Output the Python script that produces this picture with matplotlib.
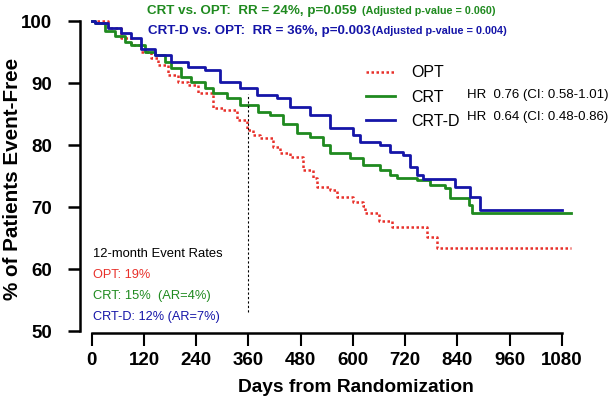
import matplotlib
matplotlib.use("Agg")
import matplotlib.pyplot as plt

plt.rcParams['font.family'] = ['Liberation Sans', 'DejaVu Sans']

# Kaplan-Meier curves (days, % event-free)
opt_days = [0, 37, 67, 90, 113, 136, 152, 175, 198, 221, 244, 279, 302, 334, 357, 371, 387,
            417, 433, 456, 486, 509, 518, 548, 564, 601, 624, 628, 660, 690, 771, 793, 1100]
opt_vals = [100, 98.9, 97.3, 96.1, 95.0, 94.0, 92.9, 91.3, 90.2, 89.7, 88.5, 86.0, 85.6, 84.0, 82.4, 81.6, 81.1,
            79.7, 78.7, 78.1, 76.0, 74.7, 73.2, 72.7, 71.6, 70.8, 70.2, 69.0, 67.8, 66.8, 65.2, 63.4, 63.4]

crt_days = [0, 8, 31, 54, 77, 90, 122, 145, 168, 182, 205, 228, 260, 279, 311, 341, 382, 410, 440,
            472, 502, 531, 548, 593, 623, 662, 685, 701, 747, 777, 812, 823, 866, 874, 1100]
crt_vals = [100, 99.8, 98.5, 97.7, 96.6, 96.1, 95.0, 94.5, 93.4, 92.4, 91.0, 90.2, 89.2, 88.5, 87.6, 86.5, 85.3, 84.8, 83.5,
            81.9, 81.3, 80.0, 78.7, 77.9, 76.8, 76.0, 75.2, 74.7, 74.4, 73.5, 73.1, 71.5, 70.3, 69.0, 69.0]

crtd_days = [0, 8, 37, 67, 90, 113, 145, 182, 221, 260, 295, 341, 380, 426, 456, 502, 548, 601, 617,
             662, 685, 715, 731, 748, 761, 835, 869, 892, 1080]
crtd_vals = [100, 99.8, 98.9, 98.1, 97.3, 95.6, 94.5, 93.4, 92.6, 92.1, 90.2, 89.2, 88.1, 87.6, 86.1, 84.8, 82.7, 81.6, 80.5,
             80.0, 78.9, 78.4, 76.5, 75.2, 74.5, 73.2, 71.6, 69.5, 69.5]

x_ticks = [0, 120, 240, 360, 480, 600, 720, 840, 960, 1080]
y_ticks = [50, 60, 70, 80, 90, 100]
landmark_day = 360

RED = '#e8302a'
GREEN = '#1f8a1f'
BLUE = '#1515a8'

W, H = 610, 404
fig = plt.figure(figsize=(W / 100, H / 100), dpi=100)
ax = fig.add_axes([80 / W, 1 - 333 / H, 495 / W, 321 / H])
renderer = fig.canvas.get_renderer()


def fit_text(x0, x1, y, s, size, **kw):
    # put text at pixel (x0, y) and shrink/grow it to end near x1
    t = fig.text(x0 / W, 1 - y / H, s, fontsize=size, va='center', ha='left', **kw)
    w = t.get_window_extent(renderer).width
    t.set_fontsize(size * (x1 - x0) / w)
    return t


ax.step(opt_days, opt_vals, where='post', color=RED, lw=1.8, linestyle=(0, (1, 1)), label='OPT')
ax.step(crt_days, crt_vals, where='post', color=GREEN, lw=2.0, label='CRT')
ax.step(crtd_days, crtd_vals, where='post', color=BLUE, lw=2.0, label='CRT-D')

ax.vlines(landmark_day, 53, 88.2, colors='black', lw=0.8, linestyles=(0, (2, 2)))

ax.set_xlim(-27, 1110)
ax.set_ylim(49.68, 101.5)
ax.set_xticks(x_ticks)
ax.set_yticks(y_ticks)

for s in ['top', 'right']:
    ax.spines[s].set_visible(False)
ax.spines['left'].set_bounds(50, 100)
ax.spines['bottom'].set_bounds(0, 1080)
ax.spines['left'].set_linewidth(1.8)
ax.spines['bottom'].set_linewidth(1.8)
ax.tick_params(axis='y', length=9, width=1.8, pad=11, labelsize=13.5)
ax.tick_params(axis='x', length=9, width=1.5, pad=5, labelsize=13.5)
for lbl in ax.get_xticklabels() + ax.get_yticklabels():
    lbl.set_fontweight('bold')

# axis titles
fit_text(238, 473, 388, 'Days from Randomization', 13, fontweight='bold')
yl = fig.text(13 / W, 1 - 179 / H, '% of Patients Event-Free', fontsize=13, fontweight='bold',
              rotation=90, va='center', ha='center')
yl.set_fontsize(13 * 242 / yl.get_window_extent(renderer).height)

# header
fit_text(147, 357, 11, 'CRT vs. OPT:  RR = 24%, p=0.059', 11, color=GREEN, fontweight='bold')
fit_text(362, 495, 11, '(Adjusted p-value = 0.060)', 9, color=GREEN, fontweight='bold')
fit_text(148, 370, 31, 'CRT-D vs. OPT:  RR = 36%, p=0.003', 11, color=BLUE, fontweight='bold')
fit_text(372, 507, 31, '(Adjusted p-value = 0.004)', 9, color=BLUE, fontweight='bold')

# legend
leg = ax.legend(loc='upper left', bbox_to_anchor=(352 / W, 1 - 51 / H), bbox_transform=fig.transFigure,
                frameon=False, fontsize=11.5, handlelength=1.8, handletextpad=1.0, labelspacing=0.58)
fit_text(467, 608, 95, 'HR  0.76 (CI: 0.58-1.01)', 11)
fit_text(467, 608, 117, 'HR  0.64 (CI: 0.48-0.86)', 11)

# 12-month rates
fit_text(93, 223, 254, '12-month Event Rates', 10)
fit_text(93, 150, 275, 'OPT: 19%', 10, color=RED)
fit_text(93, 210, 296, 'CRT: 15%  (AR=4%)', 10, color=GREEN)
fit_text(93, 220, 317, 'CRT-D: 12% (AR=7%)', 10, color=BLUE)

fig.savefig('out.png', dpi=100)
